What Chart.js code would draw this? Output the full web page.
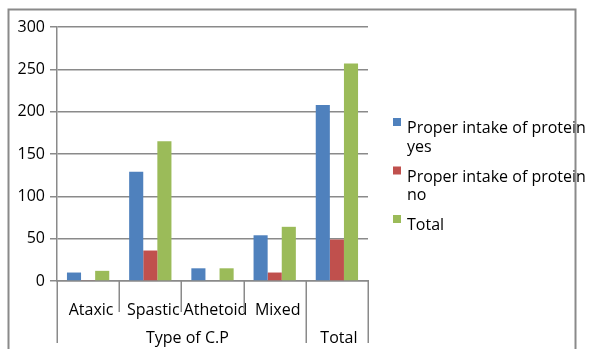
<!DOCTYPE html>
<html>
<head>
<meta charset="utf-8">
<script src="https://cdn.jsdelivr.net/npm/chart.js@4/dist/chart.umd.min.js"></script>
<style>
  html, body { margin: 0; padding: 0; background: #ffffff; }
  #wrap { width: 589px; height: 349px; position: relative; }
</style>
</head>
<body>
<div id="wrap"><canvas id="c" width="589" height="349"></canvas></div>
<script>
// Cerebral palsy type vs. protein intake
const categories = ['Ataxic', 'Spastic', 'Athetoid', 'Mixed', 'Total'];
const groupLabels = ['Type of C.P', 'Total'];
const groupSpans = [[0, 3], [4, 4]];
const seriesNames = ['Proper intake of protein yes', 'Proper intake of protein no', 'Total'];
const intakeYes = [10, 129, 15, 54, 208];
const intakeNo = [1, 36, 0, 10, 49];
const totals = [12, 165, 15, 64, 257];
const yTicks = [0, 50, 100, 150, 200, 250, 300];

const colors = ['#4F81BD', '#C0504D', '#9BBB59'];
const lineGrey = '#8a8a8a';
const FONT = '"Open Sans", sans-serif';

// Category separators and the second row of axis labels
const axisGroups = {
  id: 'axisGroups',
  afterDraw(chart) {
    const ctx = chart.ctx;
    const x = chart.scales.x;
    const area = chart.chartArea;
    const half = (x.getPixelForValue(1) - x.getPixelForValue(0)) / 2;
    const edge = i => x.getPixelForValue(i) - half;
    const longEdges = new Set([0]);
    groupSpans.forEach(s => longEdges.add(s[1] + 1));
    ctx.save();
    ctx.strokeStyle = lineGrey;
    ctx.lineWidth = 1.5;
    for (let i = 0; i <= categories.length; i++) {
      const px = Math.round(edge(i)) + 0.25;
      ctx.beginPath();
      ctx.moveTo(px, area.bottom);
      ctx.lineTo(px, longEdges.has(i) ? area.bottom + 62 : area.bottom + 31);
      ctx.stroke();
    }
    ctx.fillStyle = '#000';
    ctx.font = '16px ' + FONT;
    ctx.textAlign = 'center';
    ctx.textBaseline = 'alphabetic';
    groupSpans.forEach((s, gi) => {
      const cx = (edge(s[0]) + edge(s[1] + 1)) / 2 + (gi === 0 ? 6 : 2);
      ctx.fillText(groupLabels[gi], cx, area.bottom + 62);
    });
    ctx.restore();
  }
};

// Legend on the right with wrapped entries
const sideLegend = {
  id: 'sideLegend',
  afterDraw(chart) {
    const ctx = chart.ctx;
    ctx.save();
    ctx.font = '16px ' + FONT;
    ctx.fillStyle = '#000';
    ctx.textBaseline = 'alphabetic';
    ctx.textAlign = 'left';
    const boxX = 393, textX = 407, maxW = 200, lineH = 18.5;
    let top = 118;
    chart.data.datasets.forEach(ds => {
      ctx.fillStyle = ds.backgroundColor;
      ctx.fillRect(boxX, top, 8, 8);
      const words = ds.label.split(' ');
      const lines = [];
      let cur = '';
      words.forEach(w => {
        const test = cur ? cur + ' ' + w : w;
        if (cur && ctx.measureText(test).width > maxW) { lines.push(cur); cur = w; }
        else cur = test;
      });
      lines.push(cur);
      ctx.fillStyle = '#000';
      lines.forEach((ln, k) => ctx.fillText(ln, textX, top + 15 + k * lineH));
      top += lines.length === 1 ? 30 : 48.5;
    });
    ctx.restore();
  }
};

// Outer chart border
const frame = {
  id: 'frame',
  afterDraw(chart) {
    const ctx = chart.ctx;
    ctx.save();
    ctx.strokeStyle = lineGrey;
    ctx.lineWidth = 2;
    ctx.strokeRect(8.5, 9.5, 567, 400);
    ctx.restore();
  }
};

new Chart(document.getElementById('c'), {
  type: 'bar',
  data: {
    labels: categories,
    datasets: [
      { label: seriesNames[0], data: intakeYes, backgroundColor: colors[0] },
      { label: seriesNames[1], data: intakeNo, backgroundColor: colors[1] },
      { label: seriesNames[2], data: totals, backgroundColor: colors[2] }
    ]
  },
  options: {
    responsive: false,
    devicePixelRatio: 1,
    animation: false,
    categoryPercentage: 0.68,
    barPercentage: 1,
    layout: { padding: { left: 0, right: 221, top: 27, bottom: 0 } },
    plugins: { legend: { display: false }, tooltip: { enabled: false } },
    scales: {
      y: {
        min: 0, max: 300,
        afterFit(s) { s.width = 57; },
        afterBuildTicks(s) { s.ticks = yTicks.map(v => ({ value: v })); },
        ticks: { color: '#000', font: { family: FONT, size: 16 }, padding: 5 },
        grid: { color: lineGrey, lineWidth: 1.5, tickLength: 7 },
        border: { display: true, color: lineGrey, width: 1.5 }
      },
      x: {
        afterFit(s) { s.height = 68; },
        grid: { display: false, offset: true },
        border: { display: true, color: lineGrey, width: 1.5 },
        ticks: {
          color: '#000', font: { family: FONT, size: 16 }, padding: 12, labelOffset: 3,
          maxRotation: 0, autoSkip: false,
          // the last category is labelled only in the group row
          callback(v, i) { return i === categories.length - 1 ? '' : categories[i]; }
        }
      }
    }
  },
  plugins: [axisGroups, sideLegend, frame]
});
</script>
</body>
</html>
